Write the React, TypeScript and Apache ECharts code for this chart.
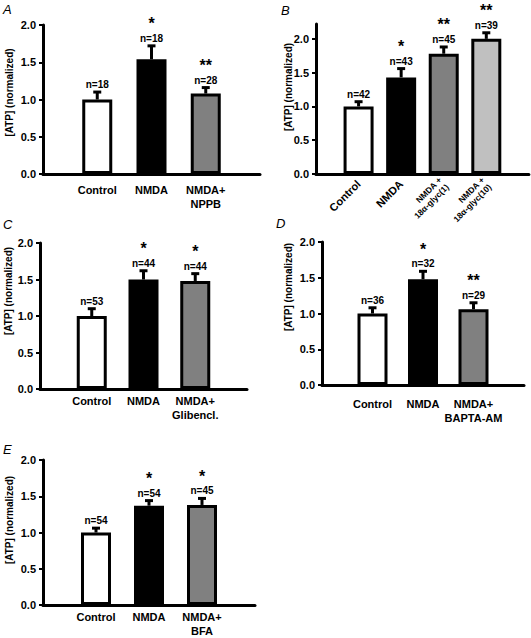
import React, { useEffect, useRef } from "react";
import * as echarts from "echarts";

const FONT = 'Arial, "Liberation Sans", Helvetica, sans-serif';

// Panel A
const categoriesA = ["Control", "NMDA", "NMDA+\nNPPB"];
const meansA = [1.0, 1.54, 1.08];
const errTopA = [1.1, 1.72, 1.16];
const nA = ["n=18", "n=18", "n=28"];
const starsA = ["", "*", "**"];

// Panel B
const categoriesB = ["Control", "NMDA", "NMDA +\n18α-glyc(1)", "NMDA +\n18α-glyc(10)"];
const meansB = [1.0, 1.43, 1.78, 2.0];
const errTopB = [1.07, 1.56, 1.88, 2.09];
const nB = ["n=42", "n=43", "n=45", "n=39"];
const starsB = ["", "*", "**", "**"];

// Panel C
const categoriesC = ["Control", "NMDA", "NMDA+\nGlibencl."];
const meansC = [1.0, 1.5, 1.48];
const errTopC = [1.1, 1.62, 1.58];
const nC = ["n=53", "n=44", "n=44"];
const starsC = ["", "*", "*"];

// Panel D
const categoriesD = ["Control", "NMDA", "NMDA+\nBAPTA-AM"];
const meansD = [1.0, 1.48, 1.06];
const errTopD = [1.08, 1.59, 1.15];
const nD = ["n=36", "n=32", "n=29"];
const starsD = ["", "*", "**"];

// Panel E
const categoriesE = ["Control", "NMDA", "NMDA+\nBFA"];
const meansE = [1.0, 1.37, 1.38];
const errTopE = [1.06, 1.44, 1.47];
const nE = ["n=54", "n=54", "n=45"];
const starsE = ["", "*", "*"];

const yTicks = [0, 0.5, 1.0, 1.5, 2.0];
const yTitle = "[ATP] (normalized)";

const panels = [
  { letter: "A", cats: categoriesA, means: meansA, errs: errTopA, ns: nA, stars: starsA,
    colors: ["#ffffff", "#000000", "#808080"], yMax: 2.0,
    grid: { left: 43, top: 25, width: 217, height: 149 }, title: [9.5, 92.5], letterPos: [3, 3],
    rotate: 0, labelMargin: 9 },
  { letter: "B", cats: categoriesB, means: meansB, errs: errTopB, ns: nB, stars: starsB,
    colors: ["#ffffff", "#000000", "#808080", "#c0c0c0"], yMax: 2.22,
    grid: { left: 316, top: 24, width: 214, height: 150 }, title: [288, 87], letterPos: [281, 4],
    rotate: 45, labelMargin: 8 },
  { letter: "C", cats: categoriesC, means: meansC, errs: errTopC, ns: nC, stars: starsC,
    colors: ["#ffffff", "#000000", "#808080"], yMax: 2.0,
    grid: { left: 40, top: 243, width: 207, height: 146 }, title: [8, 291], letterPos: [3, 218],
    rotate: 0, labelMargin: 5 },
  { letter: "D", cats: categoriesD, means: meansD, errs: errTopD, ns: nD, stars: starsD,
    colors: ["#ffffff", "#000000", "#808080"], yMax: 2.0,
    grid: { left: 322, top: 242, width: 202, height: 143 }, title: [288.5, 287], letterPos: [276, 217],
    rotate: 0, labelMargin: 12 },
  { letter: "E", cats: categoriesE, means: meansE, errs: errTopE, ns: nE, stars: starsE,
    colors: ["#ffffff", "#000000", "#808080"], yMax: 2.0,
    grid: { left: 43, top: 460, width: 212, height: 147 }, title: [9.5, 520], letterPos: [3, 443],
    rotate: 0, labelMargin: 5 },
];

function buildOption() {
  const grid: any[] = [];
  const xAxis: any[] = [];
  const yAxis: any[] = [];
  const series: any[] = [];
  const graphic: any[] = [];

  panels.forEach((p, gi) => {
    grid.push({ ...p.grid, containLabel: false });
    const catData: any[] = [""];
    p.cats.forEach((c) => {
      if (c.indexOf("18α") >= 0) {
        catData.push({ value: c, textStyle: { fontSize: 8.5, lineHeight: 10 } });
      } else {
        catData.push(c);
      }
    });
    catData.push("");
    xAxis.push({
      type: "category",
      gridIndex: gi,
      data: catData,
      boundaryGap: false,
      axisLine: { show: true, lineStyle: { color: "#000", width: 3 } },
      axisTick: { show: false },
      axisLabel: {
        interval: 0,
        color: "#000",
        fontFamily: FONT,
        fontWeight: "bold",
        fontSize: 11,
        lineHeight: 14,
        margin: p.labelMargin,
        rotate: p.rotate,
      },
      splitLine: { show: false },
    });
    yAxis.push({
      type: "value",
      gridIndex: gi,
      min: 0,
      max: p.yMax,
      interval: 0.5,
      axisLine: { show: true, lineStyle: { color: "#000", width: 3 } },
      axisTick: { show: true, length: 4, lineStyle: { color: "#000", width: 2 }, customValues: yTicks },
      axisLabel: {
        color: "#000",
        fontFamily: FONT,
        fontWeight: "bold",
        fontSize: 11,
        margin: 7,
        customValues: yTicks,
        formatter: (v: number) => v.toFixed(1),
      },
      splitLine: { show: false },
    });
    series.push({
      type: "bar",
      xAxisIndex: gi,
      yAxisIndex: gi,
      barWidth: 30,
      data: p.means.map((m, i) => ({
        value: [i + 1, m],
        itemStyle: { color: p.colors[i], borderColor: "#000", borderWidth: 3 },
      })),
      encode: { x: 0, y: 1 },
      z: 2,
    });
    series.push({
      type: "custom",
      xAxisIndex: gi,
      yAxisIndex: gi,
      clip: false,
      z: 3,
      data: p.means.map((m, i) => [i + 1, m, p.errs[i]]),
      encode: { x: 0, y: [1, 2] },
      renderItem: (params: any, api: any) => {
        const idx = params.dataIndex;
        const x = api.value(0);
        const top = api.coord([x, api.value(1)]);
        const err = api.coord([x, api.value(2)]);
        const children: any[] = [
          { type: "line", shape: { x1: top[0], y1: top[1], x2: err[0], y2: err[1] },
            style: { stroke: "#000", lineWidth: 3 } },
          { type: "line", shape: { x1: err[0] - 4, y1: err[1], x2: err[0] + 4, y2: err[1] },
            style: { stroke: "#000", lineWidth: 3 } },
          { type: "text", x: err[0], y: err[1] - 7.5,
            style: { text: p.ns[idx], align: "center", verticalAlign: "middle",
              font: `bold 10px ${FONT}`, fill: "#000" } },
        ];
        if (p.stars[idx]) {
          children.push({ type: "text", x: err[0], y: err[1] - 22,
            style: { text: p.stars[idx], align: "center", verticalAlign: "middle",
              font: `bold 16px ${FONT}`, fill: "#000" } });
        }
        return { type: "group", children };
      },
    });
    graphic.push({
      type: "text",
      x: p.title[0],
      y: p.title[1],
      rotation: Math.PI / 2,
      style: { text: yTitle, align: "center", verticalAlign: "middle",
        font: `bold 10px ${FONT}`, fill: "#000" },
    });
    graphic.push({
      type: "text",
      x: p.letterPos[0],
      y: p.letterPos[1],
      style: { text: p.letter, align: "left", verticalAlign: "top",
        font: `italic 13px ${FONT}`, fill: "#000" },
    });
  });

  return { animation: false, backgroundColor: "#ffffff", grid, xAxis, yAxis, series, graphic };
}

export default function App() {
  const ref = useRef<HTMLDivElement>(null);
  useEffect(() => {
    if (!ref.current) return;
    const chart = echarts.init(ref.current, undefined, { renderer: "svg" });
    chart.setOption(buildOption() as any);
    return () => chart.dispose();
  }, []);
  return (
    <div
      ref={ref}
      style={{ position: "absolute", left: 0, top: 0, width: 531, height: 638, background: "#fff" }}
    />
  );
}
